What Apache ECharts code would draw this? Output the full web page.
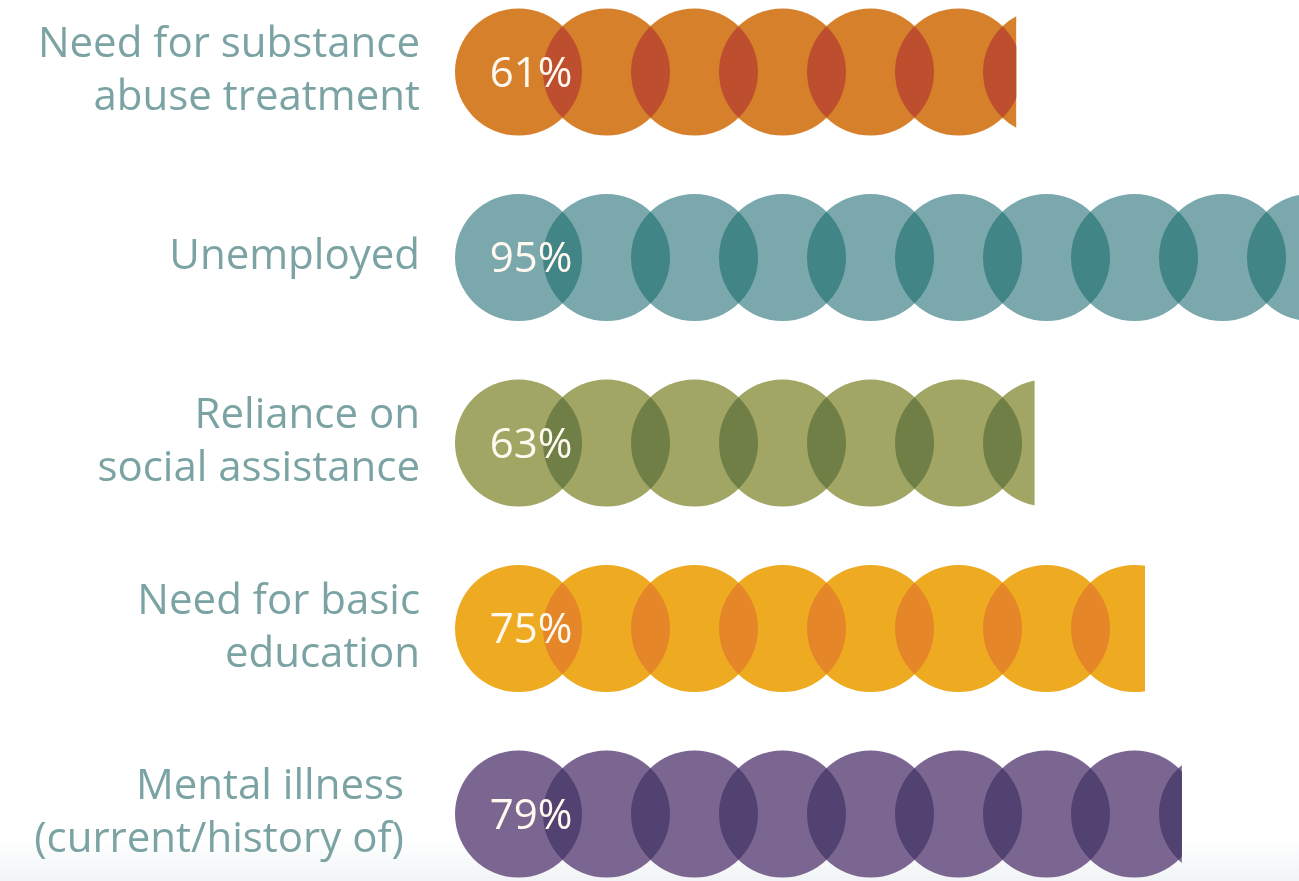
<!DOCTYPE html>
<html>
<head>
<meta charset="utf-8">
<script src="https://cdn.jsdelivr.net/npm/echarts@6/dist/echarts.min.js"></script>
<style>
html,body{margin:0;padding:0;background:#fff;}
#main{width:1299px;height:881px;}
</style>
</head>
<body>
<div id="main"></div>
<script>
// ---- data ----
const categories = [
  'Need for substance\nabuse treatment',
  'Unemployed',
  'Reliance on\nsocial assistance',
  'Need for basic\neducation',
  'Mental illness\n(current/history of)'
];
const values = [61, 95, 63, 75, 79];
const valueLabels = ['61%', '95%', '63%', '75%', '79%'];

// ---- styles ----
const circleColors  = ['#D6802B', '#7AA8AD', '#A1A664', '#EEAA21', '#7B6691'];
const overlapColors = ['#BE4F2E', '#428587', '#707F45', '#E58628', '#524271'];
const labelColor = '#7CA3A3';

const chart = echarts.init(document.getElementById('main'));

const R = 63.5;   // circle radius (px)
const STEP = 88;  // distance between circle centres (px)

function renderItem(params, api) {
  const idx = api.value(1);
  const v = api.value(0);
  const p0 = api.coord([0, idx]);
  const p1 = api.coord([v, idx]);
  const x0 = p0[0], cy = p0[1], x1 = p1[0];
  const n = Math.ceil((x1 - x0) / STEP) + 1;
  const color = circleColors[params.dataIndex];
  const dark = overlapColors[params.dataIndex];
  const children = [];
  for (let k = 0; k < n; k++) {
    children.push({
      type: 'circle',
      shape: { cx: x0 + R + k * STEP, cy: cy, r: R },
      style: { fill: color }
    });
  }
  const h2 = Math.sqrt(R * R - (STEP / 2) * (STEP / 2));
  for (let k = 0; k < n - 1; k++) {
    const xm = x0 + R + k * STEP + STEP / 2;
    children.push({
      type: 'path',
      shape: {
        pathData: 'M' + xm + ',' + (cy - h2) +
          ' A' + R + ',' + R + ' 0 0,1 ' + xm + ',' + (cy + h2) +
          ' A' + R + ',' + R + ' 0 0,1 ' + xm + ',' + (cy - h2) + ' Z',
        layout: 'cover'
      },
      style: { fill: dark }
    });
  }
  const clipped = {
    type: 'group',
    clipPath: {
      type: 'rect',
      shape: { x: x0, y: cy - R - 3, width: Math.max(x1 - x0, 0), height: 2 * R + 6 }
    },
    children: children
  };
  const label = {
    type: 'text',
    x: x0 + 76,
    y: cy + 3,
    style: {
      text: valueLabels[params.dataIndex],
      fill: '#FFF9F0',
      font: 'normal 42px "Open Sans", sans-serif',
      align: 'center',
      verticalAlign: 'middle'
    }
  };
  return { type: 'group', children: [clipped, label] };
}

const option = {
  backgroundColor: {
    type: 'linear', x: 0, y: 0, x2: 0, y2: 1,
    colorStops: [
      { offset: 0, color: '#ffffff' },
      { offset: 0.95, color: '#ffffff' },
      { offset: 1, color: '#F1F4F6' }
    ]
  },
  animation: false,
  grid: { left: 455, width: 920, top: 72, bottom: 67, containLabel: false, outerBoundsMode: 'none' },
  xAxis: {
    type: 'value', min: 0, max: 100,
    show: false
  },
  yAxis: {
    type: 'category',
    inverse: true,
    boundaryGap: false,
    data: categories.map((c, i) => i === 4
      ? { value: c, textStyle: { padding: [0, 16, 0, 0] } }
      : c),
    axisLine: { show: false },
    axisTick: { show: false },
    splitLine: { show: false },
    axisLabel: {
      align: 'right',
      margin: 35,
      fontFamily: '"Open Sans", sans-serif',
      fontSize: 42,
      lineHeight: 53,
      color: labelColor
    }
  },
  series: [{
    type: 'custom',
    renderItem: renderItem,
    encode: { x: 0, y: 1 },
    data: values.map((v, i) => [v, i])
  }]
};
chart.setOption(option);
</script>
</body>
</html>
